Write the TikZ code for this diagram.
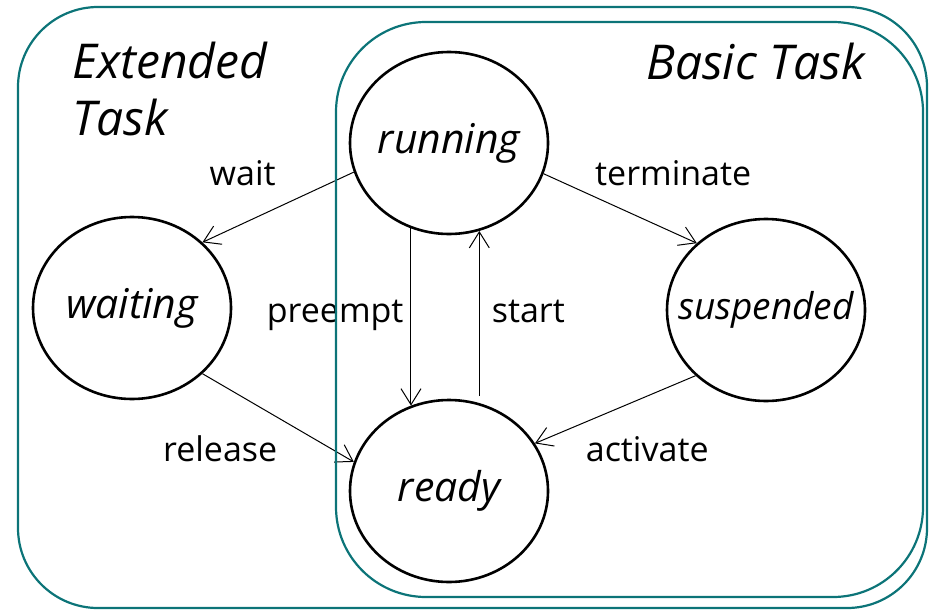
\documentclass[tikz,border=0pt]{standalone}
\usepackage{fontspec}
\setmainfont{Open Sans}
\usepackage{xcolor}
\usepackage{tikz}
\usetikzlibrary{arrows.meta,shapes.geometric}
\definecolor{frameteal}{RGB}{12,116,120}

\begin{document}
\begin{tikzpicture}[
    x=0.5pt, y=-0.5pt,
    taskstate/.style={draw, ellipse, line width=1.3pt, minimum width=99pt, minimum height=91pt,
                      inner sep=0pt, inner xsep=-20pt, font=\fontsize{20.5}{24}\selectfont\itshape},
    taskframe/.style={draw=frameteal, line width=1.1pt, rounded corners=40pt},
    tasktitle/.style={font=\fontsize{24}{28.5}\selectfont\itshape, inner sep=0pt},
    arr/.style={-{Straight Barb[length=8pt,width=10pt]}, line width=0.5pt},
    lbl/.style={font=\fontsize{17}{20}\selectfont, inner sep=0pt},
]
\useasboundingbox (0,0) rectangle (929,610);

\node[tasktitle, anchor=north west, align=left] (exttitle) at (72,42) {Extended\\Task};
\node[tasktitle, anchor=base east] (basictitle) at (865,80) {Basic Task};

\node[taskstate] (running) at (449,143) {running};
\node[taskstate] (waiting) at (132,308) {waiting};
\node[taskstate] (suspended) at (766,310) {\fontsize{18.5}{22}\selectfont suspended};
\node[taskstate] (ready) at (449,491) {ready};

\draw[arr] (running.197) -- (waiting.43) node[lbl, midway, shift={(-35.5,-34)}] (lwait) {wait};
\draw[arr] (running.342) -- (suspended.136) node[lbl, midway, shift={(53,-35.5)}] (lterm) {terminate};
\draw[arr] (running.246) -- (ready.114) node[lbl, midway, left=3.5pt, yshift=1pt] (lpre) {preempt};
\draw[arr, shorten <=3.5pt] (ready.71) -- (running.289) node[lbl, midway, right=6pt, yshift=3pt] (lstart) {start};
\draw[arr] (waiting.317) -- (ready.163) node[lbl, midway, shift={(-58,31)}] (lrel) {release};
\draw[arr] (suspended.223) -- (ready.29) node[lbl, midway, shift={(32,40)}] (lact) {activate};

% task frames
\draw[taskframe] (18,7) rectangle (927,608);
\draw[taskframe, rounded corners=45pt] (336,22) rectangle (923,597);
\end{tikzpicture}
\end{document}
